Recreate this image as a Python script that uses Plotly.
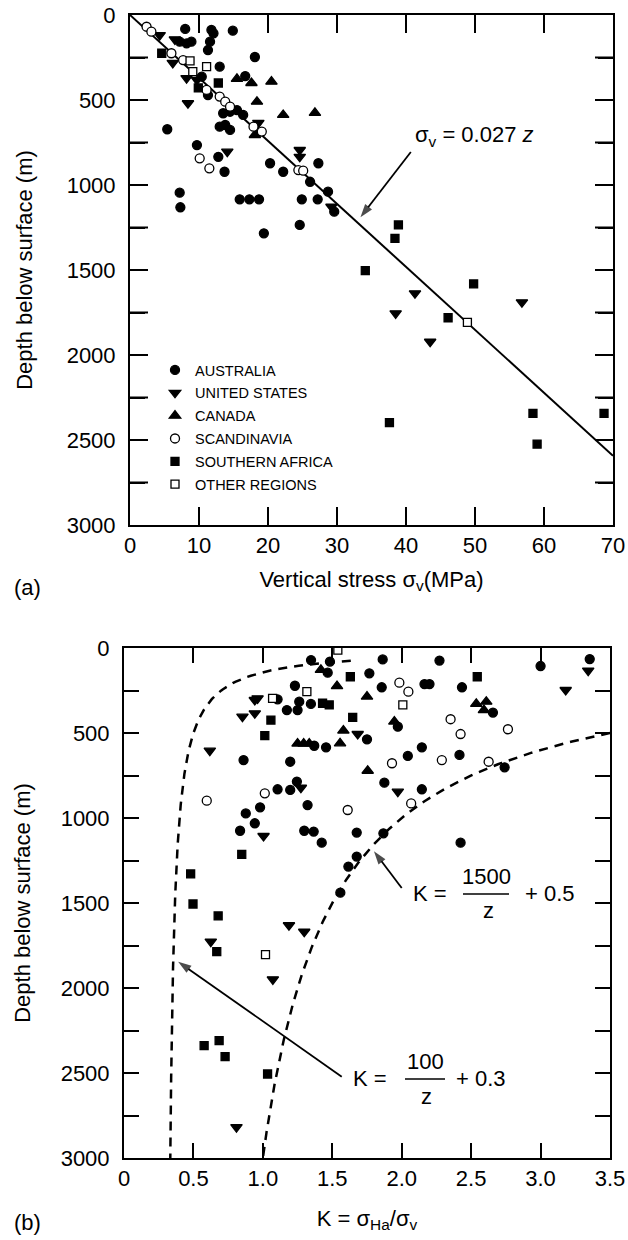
import numpy as np
import plotly.graph_objects as go

FONT = "Liberation Sans, Arial, Helvetica, sans-serif"
W, H = 628, 1240

# ---------------- categories ----------------
regions = ["AUSTRALIA", "UNITED STATES", "CANADA", "SCANDINAVIA",
           "SOUTHERN AFRICA", "OTHER REGIONS"]

# ---------------- panel (a): vertical stress (MPa) vs depth (m) ----------------
a_aus_stress = [8.0, 11.8, 12.1, 14.9, 18.1, 11.6, 11.3, 7.2, 8.2, 8.9, 13.0, 16.7, 10.4, 11.3,
                13.5, 14.5, 15.5, 16.4, 13.0, 13.8, 14.5, 5.4, 9.7, 12.8, 13.7, 20.3, 22.2,
                27.3, 26.1, 7.2, 7.3, 15.9, 17.3, 18.7, 24.9, 27.2, 28.7, 29.6, 19.4, 24.6]
a_aus_depth = [82, 88, 108, 92, 247, 157, 206, 157, 167, 157, 304, 359, 363, 471,
               578, 569, 559, 588, 657, 647, 676, 672, 765, 834, 922, 872, 922,
               872, 981, 1045, 1131, 1084, 1084, 1084, 1084, 1084, 1039, 1157, 1284, 1235]

a_us_stress = [4.3, 6.5, 6.2, 8.2, 9.7, 8.4, 14.1, 18.6, 24.6, 24.6, 29.2, 38.5, 41.3, 43.5, 56.8]
a_us_depth = [118, 143, 282, 371, 382, 519, 804, 635, 794, 834, 1128, 1755, 1637, 1922, 1690]

a_can_stress = [15.5, 17.6, 20.5, 18.4, 22.2, 26.8, 18.1]
a_can_depth = [376, 400, 392, 510, 588, 576, 706]

a_sca_stress = [2.4, 3.1, 6.0, 7.7, 11.1, 13.0, 13.8, 14.5, 17.9, 19.1, 10.1, 11.5, 24.4, 25.1]
a_sca_depth = [69, 98, 225, 265, 441, 480, 510, 539, 657, 686, 843, 902, 912, 916]

a_saf_stress = [4.6, 9.9, 12.8, 34.1, 38.9, 38.4, 49.8, 46.1, 37.6, 58.4, 59.0, 68.7]
a_saf_depth = [225, 429, 400, 1504, 1235, 1314, 1582, 1781, 2398, 2343, 2524, 2343]

a_oth_stress = [8.7, 9.1, 11.1, 48.9]
a_oth_depth = [270, 333, 304, 1808]

# trend line sigma_v = 0.027 z
SIGMA_GRADIENT = 0.027
line_stress = [0, 70]

# ---------------- panel (b): K ratio vs depth (m) ----------------
b_aus_k = [1.347, 1.483, 1.467, 1.863, 1.767, 1.856, 1.231, 1.106, 1.173, 1.25, 1.262, 1.346,
           1.75, 1.37, 1.455, 0.861, 1.197, 1.875, 1.106, 1.197, 1.245, 1.322, 0.877, 0.98,
           0.942, 0.836, 1.298, 1.366, 1.424, 1.676, 1.868, 1.676, 1.616, 1.558, 2.272, 3.0,
           3.354, 2.164, 2.2, 2.434, 2.657, 1.972, 2.145, 2.044, 2.416, 2.741, 2.145, 2.424]
b_aus_depth = [71, 80, 145, 67, 149, 231, 222, 302, 365, 365, 316, 329,
               537, 575, 584, 659, 669, 792, 831, 835, 786, 924, 973, 937,
               1031, 1075, 1075, 1080, 1145, 1086, 1090, 1227, 1286, 1439, 74, 106,
               65, 212, 212, 231, 380, 463, 584, 635, 629, 702, 831, 1145]

b_us_k = [0.942, 0.962, 0.853, 0.942, 1.683, 0.618, 1.274, 1.005, 3.343, 3.181, 1.972,
          0.625, 1.188, 1.298, 1.072, 0.81]
b_us_depth = [306, 296, 404, 384, 506, 604, 822, 1106, 133, 247, 845,
              1727, 1631, 1669, 1949, 2818]

b_can_k = [1.418, 1.534, 1.75, 1.58, 1.25, 1.294, 1.334, 1.556, 1.755, 2.537, 2.609, 2.592, 1.947]
b_can_depth = [129, 224, 286, 486, 562, 562, 562, 561, 722, 329, 316, 365, 433]

b_sca_k = [1.93, 0.596, 1.014, 1.611, 1.983, 2.048, 2.352, 2.424, 2.765, 2.289, 2.626, 2.068]
b_sca_depth = [678, 898, 855, 953, 204, 257, 419, 506, 478, 659, 669, 914]

b_saf_k = [1.63, 1.43, 1.478, 1.058, 1.014, 1.647, 2.544, 0.848, 0.48, 0.497, 0.678, 0.668,
           0.577, 0.685, 0.728, 1.034]
b_saf_depth = [169, 325, 335, 424, 516, 408, 169, 1214, 1329, 1506, 1576, 1786,
               2339, 2310, 2404, 2506]

b_oth_k = [1.54, 1.317, 1.07, 2.008, 1.019]
b_oth_depth = [12, 257, 296, 335, 1804]

# bounding curves K = A/z + B
LOWER_A, LOWER_B = 100, 0.3
UPPER_A, UPPER_B = 1500, 0.5
LOWER_Z_RANGE = (75, 3000)
UPPER_Z_RANGE = (500, 3000)

# tick labels / tick positions
a_x_ticks = [0, 10, 20, 30, 40, 50, 60, 70]
a_x_ticktext = ["0", "10", "20", "30", "40", "50", "60", "70"]
depth_ticks = [0, 500, 1000, 1500, 2000, 2500, 3000]
depth_ticktext = ["0", "500", "1000", "1500", "2000", "2500", "3000"]
depth_tick_marks = [250, 500, 750, 1000, 1250, 1500, 1750, 2000, 2250, 2500, 2750]
b_x_ticks = [0, 0.5, 1.0, 1.5, 2.0, 2.5, 3.0, 3.5]
b_x_ticktext = ["0", "0.5", "1.0", "1.5", "2.0", "2.5", "3.0", "3.5"]

a_data = [(a_aus_stress, a_aus_depth), (a_us_stress, a_us_depth), (a_can_stress, a_can_depth),
          (a_sca_stress, a_sca_depth), (a_saf_stress, a_saf_depth), (a_oth_stress, a_oth_depth)]
b_data = [(b_aus_k, b_aus_depth), (b_us_k, b_us_depth), (b_can_k, b_can_depth),
          (b_sca_k, b_sca_depth), (b_saf_k, b_saf_depth), (b_oth_k, b_oth_depth)]

# ---------------- styles ----------------
styles = {
    "AUSTRALIA": dict(symbol="circle", size=9, color="black"),
    "UNITED STATES": dict(symbol="triangle-down", size=10, color="black"),
    "CANADA": dict(symbol="triangle-up", size=10, color="black"),
    "SCANDINAVIA": dict(symbol="circle", size=9, color="white"),
    "SOUTHERN AFRICA": dict(symbol="square", size=8, color="black"),
    "OTHER REGIONS": dict(symbol="square", size=8, color="white"),
}
TICK_LEN = 15

# panel (a) box in pixels
A_LEFT, A_RIGHT, A_TOP, A_BOTTOM = 130, 613, 15, 525
A_X_RANGE = (0, 70)
A_Y_RANGE = (3000, 0)


def px_x(p):
    return p / W


def px_y(p):
    return 1 - p / H


fig = go.Figure()

# trend line (a)
fig.add_trace(go.Scatter(
    x=line_stress, y=[s / SIGMA_GRADIENT for s in line_stress], mode="lines",
    line=dict(color="black", width=2), showlegend=False, hoverinfo="skip",
    xaxis="x", yaxis="y"))

# inward tick marks of panel (a), drawn through its own axes
half_x = (TICK_LEN / 2) * (A_X_RANGE[1] - A_X_RANGE[0]) / (A_RIGHT - A_LEFT)
half_y = (TICK_LEN / 2) * (A_Y_RANGE[0] - A_Y_RANGE[1]) / (A_BOTTOM - A_TOP)
inner_x = [v for v in a_x_ticks if A_X_RANGE[0] < v < A_X_RANGE[1]]
fig.add_trace(go.Scatter(
    x=inner_x + inner_x,
    y=[A_Y_RANGE[0] - half_y] * len(inner_x) + [A_Y_RANGE[1] + half_y] * len(inner_x),
    mode="markers", marker=dict(symbol="line-ns", size=TICK_LEN,
                                line=dict(color="black", width=2)),
    showlegend=False, hoverinfo="skip", xaxis="x", yaxis="y"))
fig.add_trace(go.Scatter(
    x=[A_X_RANGE[0] + half_x] * len(depth_tick_marks)
      + [A_X_RANGE[1] - half_x] * len(depth_tick_marks),
    y=depth_tick_marks + depth_tick_marks,
    mode="markers", marker=dict(symbol="line-ew", size=TICK_LEN,
                                line=dict(color="black", width=2)),
    showlegend=False, hoverinfo="skip", xaxis="x", yaxis="y"))

# bounding curves (b)
z_lo = np.linspace(*LOWER_Z_RANGE, 400)
z_up = np.linspace(*UPPER_Z_RANGE, 300)
fig.add_trace(go.Scatter(
    x=LOWER_A / z_lo + LOWER_B, y=z_lo, mode="lines",
    line=dict(color="black", width=2.5, dash="9px,7px"), showlegend=False,
    hoverinfo="skip", xaxis="x2", yaxis="y2"))
fig.add_trace(go.Scatter(
    x=UPPER_A / z_up + UPPER_B, y=z_up, mode="lines",
    line=dict(color="black", width=2.5, dash="9px,7px"), showlegend=False,
    hoverinfo="skip", xaxis="x2", yaxis="y2"))


def add_arrow(x0, y0, x1, y1, xa, ya):
    fig.add_trace(go.Scatter(
        x=[x0, x1], y=[y0, y1], mode="lines+markers",
        line=dict(color="black", width=1.8),
        marker=dict(symbol=["circle", "arrow"], size=[0, 14], angleref="previous",
                    color="black", line=dict(width=0)),
        showlegend=False, hoverinfo="skip", xaxis=xa, yaxis=ya))


# arrows pointing to the curves
add_arrow(40.7, 806, 33.4, 1190, "x", "y")
add_arrow(2.0, 1412, 1.80, 1195, "x2", "y2")
add_arrow(1.568, 2522, 0.39, 1845, "x2", "y2")

for name, (ax_, ay_), (bx_, by_) in zip(regions, a_data, b_data):
    st = styles[name]
    marker = dict(symbol=st["symbol"], size=st["size"], color=st["color"],
                  line=dict(color="black", width=1.3))
    fig.add_trace(go.Scatter(x=ax_, y=ay_, mode="markers", name=name, marker=marker,
                             legendgroup=name, showlegend=True, xaxis="x", yaxis="y"))
    fig.add_trace(go.Scatter(x=bx_, y=by_, mode="markers", name=name, marker=marker,
                             legendgroup=name, showlegend=False, xaxis="x2", yaxis="y2"))

base = dict(showgrid=False, zeroline=False, showline=True, linecolor="black", linewidth=2,
            ticks="inside", ticklen=TICK_LEN, tickwidth=2, tickcolor="black",
            mirror="allticks", tickfont=dict(family=FONT, size=22, color="black"))
minor_ticks = dict(dtick=250, ticks="inside", ticklen=TICK_LEN, tickwidth=2,
                   tickcolor="black")

fig.update_layout(
    width=W, height=H,
    margin=dict(l=0, r=0, t=0, b=0, autoexpand=False),
    paper_bgcolor="white", plot_bgcolor="white",
    font=dict(family=FONT, color="black"),
    showlegend=True,
    legend=dict(
        x=px_x(155), y=px_y(354), xanchor="left", yanchor="top",
        font=dict(family=FONT, size=14.5, color="black"),
        bgcolor="rgba(0,0,0,0)", tracegroupgap=1,
    ),
    xaxis=dict(
        **base, domain=[px_x(A_LEFT), px_x(A_RIGHT)], anchor="y", range=list(A_X_RANGE),
        tickvals=a_x_ticks, ticktext=a_x_ticktext,
        title=dict(text="Vertical stress σ<sub>v</sub>(MPa)",
                   font=dict(family=FONT, size=22), standoff=14),
    ),
    yaxis=dict(
        **base, domain=[px_y(A_BOTTOM), px_y(A_TOP)], anchor="x", range=list(A_Y_RANGE),
        tickvals=depth_ticks, ticktext=depth_ticktext, ticklabelstandoff=8,
        minor=minor_ticks,
        title=dict(text="Depth below surface (m)", font=dict(family=FONT, size=22),
                   standoff=28),
    ),
    xaxis2=dict(
        **base, domain=[px_x(124), px_x(610)], anchor="y2", range=[0, 3.5],
        tickvals=b_x_ticks, ticktext=b_x_ticktext,
        title=dict(text="K = σ<sub>Ha</sub>/σ<sub>v</sub>",
                   font=dict(family=FONT, size=22), standoff=20),
    ),
    yaxis2=dict(
        **base, domain=[px_y(1158), px_y(648)], anchor="x2", range=[3000, 0],
        tickvals=depth_ticks, ticktext=depth_ticktext, ticklabelstandoff=8,
        minor=minor_ticks,
        title=dict(text="Depth below surface (m)", font=dict(family=FONT, size=22),
                   standoff=24),
    ),
)

ann_font = dict(family=FONT, size=22, color="black")


def label(text, x, y):
    return dict(text=text, x=px_x(x), y=px_y(y), xref="paper", yref="paper",
                xanchor="center", yanchor="middle", showarrow=False, font=ann_font)


annotations = [
    label("(a)", 28, 587),
    label("(b)", 28, 1222),
    label("σ<sub>v</sub> = 0.027 <i>z</i>", 474, 136),
    # K = 1500/z + 0.5
    label("K =", 430, 893),
    label("1500", 486, 876),
    label("z", 488, 910),
    label("+ 0.5", 550, 893),
    # K = 100/z + 0.3
    label("K =", 370, 1078),
    label("100", 425, 1061),
    label("z", 426, 1096),
    label("+ 0.3", 481, 1078),
]
fig.update_layout(annotations=annotations)

shapes = [
    dict(type="line", xref="paper", yref="paper", x0=px_x(463), x1=px_x(509),
         y0=px_y(894), y1=px_y(894), line=dict(color="black", width=1.5)),
    dict(type="line", xref="paper", yref="paper", x0=px_x(405), x1=px_x(445),
         y0=px_y(1079), y1=px_y(1079), line=dict(color="black", width=1.5)),
]
fig.update_layout(shapes=shapes)

fig.write_html("out.html", config={"displayModeBar": False},
               post_script="document.body.style.margin='0';")
